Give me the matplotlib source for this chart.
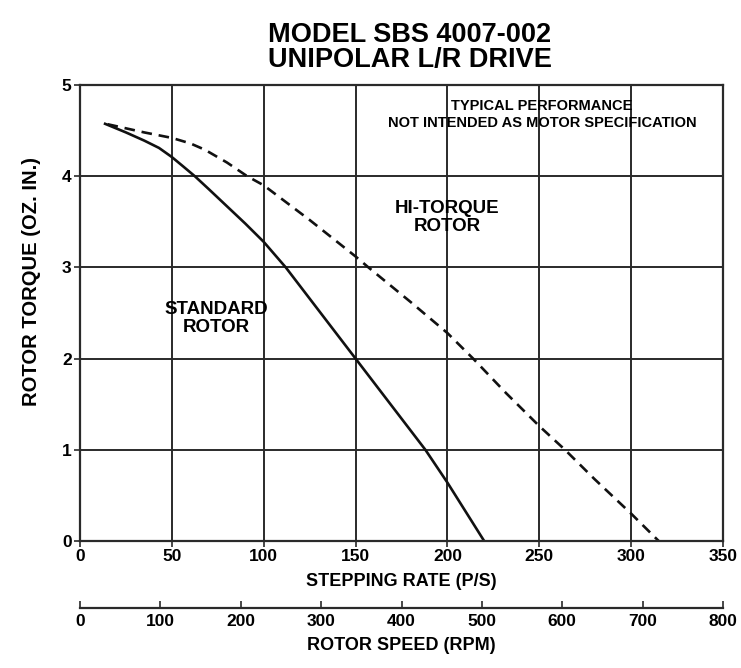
import matplotlib
matplotlib.use("Agg")
import matplotlib.pyplot as plt

plt.rcParams['font.family'] = ['Liberation Sans', 'DejaVu Sans']

# Data
standard_rate = [13, 25, 35, 43, 50, 56, 62.5, 70, 80, 90, 100, 112, 131, 150, 169, 188, 200, 220]
standard_torque = [4.58, 4.48, 4.39, 4.31, 4.21, 4.11, 4.0, 3.86, 3.67, 3.48, 3.28, 3.0, 2.5, 2.0, 1.5, 1.0, 0.64, 0.0]

hitorque_rate = [15, 35, 50, 60, 68, 80, 91, 100, 125, 150, 157, 180, 200, 214, 232, 250, 264, 280, 300, 315]
hitorque_torque = [4.57, 4.48, 4.42, 4.36, 4.29, 4.15, 4.0, 3.9, 3.52, 3.12, 3.0, 2.62, 2.28, 2.0, 1.62, 1.26, 1.0, 0.68, 0.3, 0.0]

x_ticks = [0, 50, 100, 150, 200, 250, 300, 350]
y_ticks = [0, 1, 2, 3, 4, 5]
rpm_ticks = [0, 100, 200, 300, 400, 500, 600, 700, 800]
RPM_PER_PPS = 800 / 350

W, H = 741, 668
fig = plt.figure(figsize=(W / 100, H / 100), dpi=100)
x0, x1, yb, yt = 80, 723, 541, 85
ax = fig.add_axes([x0 / W, 1 - yb / H, (x1 - x0) / W, (yb - yt) / H])

gridc = '#2a2a2a'
ax.set_xlim(0, 350)
ax.set_ylim(0, 5)
ax.set_xticks(x_ticks)
ax.set_yticks(y_ticks)
ax.grid(True, color=gridc, linewidth=1.4)
for s in ax.spines.values():
    s.set_color(gridc)
    s.set_linewidth(1.6)

ax.plot(standard_rate, standard_torque, color='#111111', linewidth=1.9, solid_capstyle='butt')
ax.plot(hitorque_rate, hitorque_torque, color='#111111', linewidth=1.9, dashes=(4, 2.6))

tickfont = dict(fontsize=12.5, fontweight='bold')
ax.tick_params(axis='both', length=4, width=1.2, color=gridc, pad=2)
ax.set_xticklabels([str(v) for v in x_ticks], **tickfont)
ax.set_yticklabels([str(v) for v in y_ticks], **tickfont)

ax.set_xlabel('STEPPING RATE (P/S)', fontsize=13, fontweight='bold', labelpad=6)
ax.set_ylabel('ROTOR TORQUE (OZ. IN.)', fontsize=14.5, fontweight='bold')
ax.yaxis.set_label_coords(-0.06, 0.568)

# secondary RPM axis
sec = ax.secondary_xaxis(-0.147, functions=(lambda x: x * RPM_PER_PPS, lambda r: r / RPM_PER_PPS))
sec.set_xticks(rpm_ticks)
sec.set_xticklabels([str(v) for v in rpm_ticks], **tickfont)
sec.tick_params(direction='in', length=5, width=1.2, color=gridc, pad=4)
sec.spines['bottom'].set_color(gridc)
sec.spines['bottom'].set_linewidth(1.6)
sec.set_xlabel('ROTOR SPEED (RPM)', fontsize=13, fontweight='bold', labelpad=6)

# annotations
ax.text(251.5, 4.77, 'TYPICAL PERFORMANCE', ha='center', va='center', fontsize=10.5, fontweight='bold')
ax.text(251.5, 4.58, 'NOT INTENDED AS MOTOR SPECIFICATION', ha='center', va='center', fontsize=10.5, fontweight='bold')
ax.text(200, 3.55, 'HI-TORQUE\nROTOR', ha='center', va='center', fontsize=13.5, fontweight='bold', linespacing=1.05)
ax.text(74, 2.44, 'STANDARD\nROTOR', ha='center', va='center', fontsize=13.5, fontweight='bold', linespacing=1.05)

fig.text(410 / W, 1 - 35 / H, 'MODEL SBS 4007-002', ha='center', va='center', fontsize=19.5, fontweight='bold')
fig.text(410 / W, 1 - 60 / H, 'UNIPOLAR L/R DRIVE', ha='center', va='center', fontsize=19.5, fontweight='bold')

fig.savefig('out.png', dpi=100)
